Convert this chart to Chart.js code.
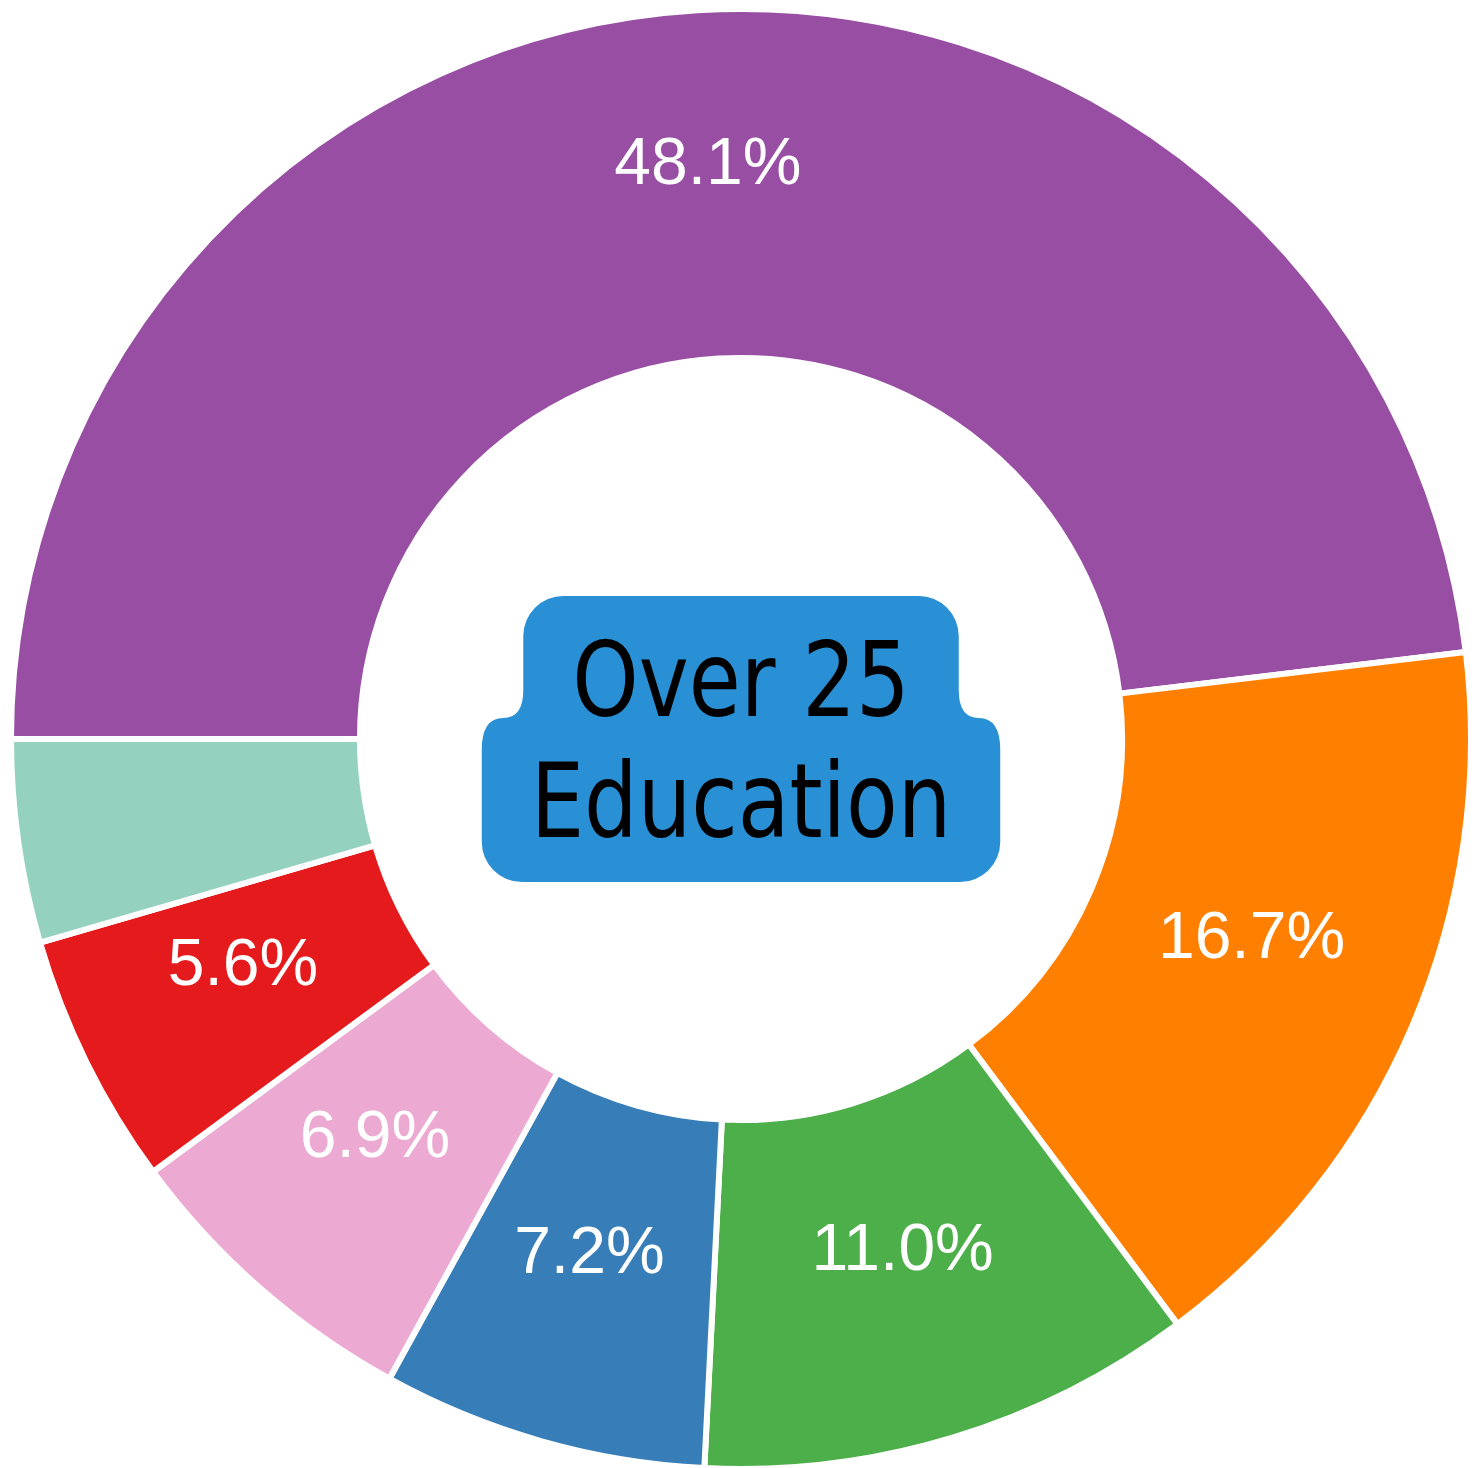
<!DOCTYPE html>
<html>
<head>
<meta charset="utf-8">
<title>Over 25 Education</title>
<script src="https://cdn.jsdelivr.net/npm/chart.js@4.4.0/dist/chart.umd.min.js"></script>
<style>
    html, body { margin: 0; padding: 0; background: #ffffff; overflow: hidden; }
    #wrap { width: 1476px; height: 1476px; }
</style>
</head>
<body>
<div id="wrap"><canvas id="educationChart" width="1476" height="1476"></canvas></div>
<script>
// Data (clockwise from 9 o'clock)
const categories = ['Group 1', 'Group 2', 'Group 3', 'Group 4', 'Group 5', 'Group 6', 'Group 7'];
const shares = [48.1, 16.7, 11.0, 7.2, 6.9, 5.6, 4.5];
const sliceColors = ['#984ea3', '#ff7f00', '#4daf4a', '#377eb8', '#ecaad3', '#e41a1c', '#94d2bf'];
const centerLines = ['Over 25', 'Education'];
const labelMinShare = 5; // smaller slices get no label

document.addEventListener('DOMContentLoaded', () => {
    const canvas = document.getElementById('educationChart');

    // White percentage labels, baseline sitting on the middle of each slice
    const sliceLabels = {
        id: 'sliceLabels',
        afterDatasetsDraw(chart) {
            const ctx = chart.ctx;
            const meta = chart.getDatasetMeta(0);
            ctx.save();
            ctx.font = '66px "Liberation Sans", Arial, sans-serif';
            ctx.fillStyle = '#ffffff';
            ctx.textAlign = 'center';
            ctx.textBaseline = 'alphabetic';
            meta.data.forEach((arc, i) => {
                const value = shares[i];
                if (value < labelMinShare) return;
                const p = arc.getProps(['x', 'y', 'startAngle', 'endAngle', 'innerRadius', 'outerRadius'], true);
                const mid = (p.startAngle + p.endAngle) / 2;
                const r = (p.innerRadius + p.outerRadius) / 2;
                ctx.fillText(value.toFixed(1) + '%', p.x + Math.cos(mid) * r, p.y + Math.sin(mid) * r);
            });
            ctx.restore();
        }
    };

    // Two-line title in a blue merged rounded box in the hole
    const centerTitle = {
        id: 'centerTitle',
        afterDraw(chart) {
            const ctx = chart.ctx;
            const arc = chart.getDatasetMeta(0).data[0];
            const cx = arc.x;
            const cy = arc.y;

            const fontSize = 103;
            const squeeze = 0.82;
            const capH = fontSize * 0.729;
            const lineH = 121;
            const padV = 45;
            const padH = 49;

            ctx.save();
            ctx.font = fontSize + 'px "DejaVu Sans", sans-serif';
            const w1 = ctx.measureText(centerLines[0]).width * squeeze;
            const w2 = ctx.measureText(centerLines[1]).width * squeeze;

            const total = capH + lineH + padV * 2;
            const top = cy - total / 2;
            const bottom = cy + total / 2;
            const base1 = top + padV + capH;
            const base2 = base1 + lineH;

            const L1 = cx - w1 / 2 - padH, R1 = cx + w1 / 2 + padH;
            const L2 = cx - w2 / 2 - padH, R2 = cx + w2 / 2 + padH;
            const ya = base1 - 26, ym = base1 + 2, yb = base1 + 34, step = 20;
            const r = 40;

            ctx.beginPath();
            ctx.moveTo(L1, top + r);
            ctx.arc(L1 + r, top + r, r, Math.PI, Math.PI * 1.5);
            ctx.lineTo(R1 - r, top);
            ctx.arc(R1 - r, top + r, r, -Math.PI / 2, 0);
            ctx.lineTo(R1, ya);
            ctx.quadraticCurveTo(R1, ym, R1 + step, ym);
            ctx.quadraticCurveTo(R2, ym, R2, yb);
            ctx.lineTo(R2, bottom - r);
            ctx.arc(R2 - r, bottom - r, r, 0, Math.PI / 2);
            ctx.lineTo(L2 + r, bottom);
            ctx.arc(L2 + r, bottom - r, r, Math.PI / 2, Math.PI);
            ctx.lineTo(L2, yb);
            ctx.quadraticCurveTo(L2, ym, L1 - step, ym);
            ctx.quadraticCurveTo(L1, ym, L1, ya);
            ctx.closePath();
            ctx.fillStyle = '#2a90d5';
            ctx.fill();

            ctx.fillStyle = '#000000';
            ctx.textAlign = 'center';
            ctx.textBaseline = 'alphabetic';
            [[centerLines[0], base1], [centerLines[1], base2]].forEach(([text, y]) => {
                ctx.save();
                ctx.translate(cx, y);
                ctx.scale(squeeze, 1);
                ctx.fillText(text, 0, 0);
                ctx.restore();
            });
            ctx.restore();
        }
    };

    new Chart(canvas.getContext('2d'), {
        type: 'doughnut',
        data: {
            labels: categories,
            datasets: [{
                data: shares,
                backgroundColor: sliceColors,
                borderColor: '#ffffff',
                borderWidth: 6,
            }]
        },
        options: {
            responsive: false,
            animation: false,
            rotation: 270,
            cutout: '52.2%',
            layout: {
                padding: { top: 6, left: 8, right: 2, bottom: 4 }
            },
            plugins: {
                legend: { display: false },
                tooltip: { enabled: false },
            }
        },
        plugins: [sliceLabels, centerTitle]
    });
});
</script>
</body>
</html>
